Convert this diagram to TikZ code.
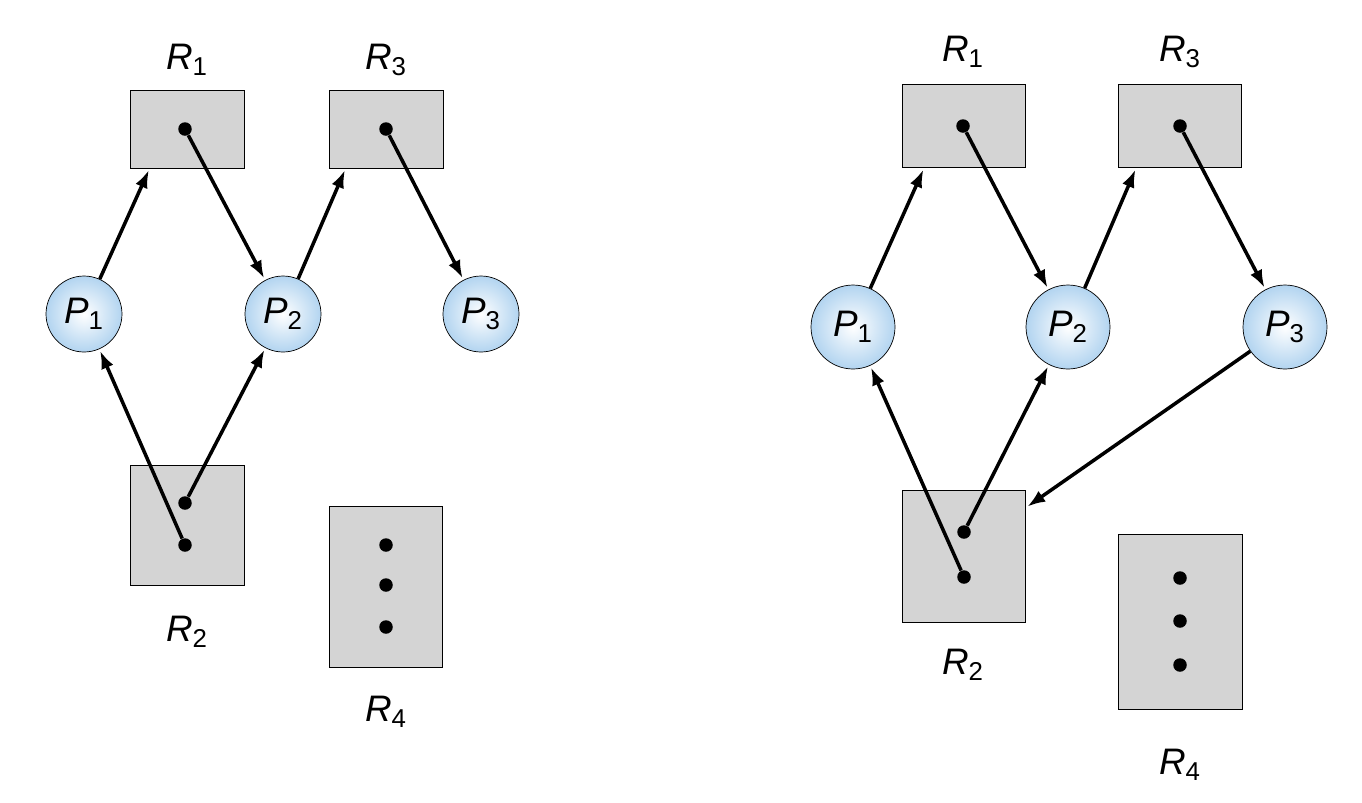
\documentclass[tikz,border=0pt]{standalone}
\usepackage{fontspec}
\setmainfont{Liberation Sans}
\usetikzlibrary{calc}
\definecolor{resgray}{RGB}{212,212,212}
\definecolor{procblue}{RGB}{178,212,240}
\newcommand{\lbl}[2]{\textit{#1}\textsubscript{#2}}
\tikzset{%
	res/.style args={#1 and #2}{draw, fill=resgray, minimum width=#1, minimum height=#2, inner sep=0pt},
	proc/.style={draw, circle, inner color=white, outer color=procblue, minimum size=#1, inner sep=0pt,
		font=\fontsize{21}{24}\selectfont},
	dot/.style={circle, fill, inner sep=0pt, minimum size=0.27cm},
	tag/.style={font=\fontsize{21}{24}\selectfont},
	edge/.style={-{Latex[length=0.36cm,width=0.26cm]}, line width=2pt, shorten >=1pt}
}
\usetikzlibrary{arrows.meta}
\begin{document}
\begin{tikzpicture}[x=0.02cm, y=-0.02cm]
				\useasboundingbox (0,0) rectangle (1362,802);
				% left graph
				\node [res=2.28cm and 1.56cm] (aR1) at (187,129) {};
				\node [res=2.28cm and 1.56cm] (aR3) at (386,129) {};
				\node [res=2.28cm and 2.4cm] (aR2) at (187,525) {};
				\node [res=2.26cm and 3.22cm] (aR4) at (386,587) {};
				\node [dot] (aD1) at (185,129) {};
				\node [dot] (aD3) at (386,129) {};
				\node [dot] (aD2a) at (185,503) {};
				\node [dot] (aD2b) at (185,545) {};
				\foreach \y in {545,585,627} \node [dot] at (386,\y) {};
				\node [proc=1.52cm] (aP1) at (84,314) {\lbl{P}{1}};
				\node [proc=1.52cm] (aP2) at (283,314) {\lbl{P}{2}};
				\node [proc=1.52cm] (aP3) at (481,314) {\lbl{P}{3}};
				\node [tag] at (187,60) {\lbl{R}{1}};
				\node [tag] at (386,60) {\lbl{R}{3}};
				\node [tag] at (187,632) {\lbl{R}{2}};
				\node [tag] at (386,712) {\lbl{R}{4}};
				\coordinate (aR1in) at ([xshift=0.4cm]aR1.south west);
				\coordinate (aR3in) at ([xshift=0.34cm]aR3.south west);
				\draw [edge] (aP1) -- (aR1in);
				\draw [edge] (aD1) -- (aP2);
				\draw [edge] (aP2) -- (aR3in);
				\draw [edge] (aD3) -- (aP3);
				\draw [edge] (aD2b) -- (aP1);
				\draw [edge] (aD2a) -- (aP2);
				% right graph
				\node [res=2.46cm and 1.66cm] (bR1) at (964,126) {};
				\node [res=2.46cm and 1.66cm] (bR3) at (1180,126) {};
				\node [res=2.46cm and 2.64cm] (bR2) at (964,556) {};
				\node [res=2.48cm and 3.5cm] (bR4) at (1180,622) {};
				\node [dot] (bD1) at (963,126) {};
				\node [dot] (bD3) at (1180,126) {};
				\node [dot] (bD2a) at (964,532) {};
				\node [dot] (bD2b) at (964,577) {};
				\foreach \y in {578,621,665} \node [dot] at (1180,\y) {};
				\node [proc=1.68cm] (bP1) at (853,327) {\lbl{P}{1}};
				\node [proc=1.68cm] (bP2) at (1068,327) {\lbl{P}{2}};
				\node [proc=1.68cm] (bP3) at (1285,327) {\lbl{P}{3}};
				\node [tag] at (963,52) {\lbl{R}{1}};
				\node [tag] at (1180,52) {\lbl{R}{3}};
				\node [tag] at (963,665) {\lbl{R}{2}};
				\node [tag] at (1180,765) {\lbl{R}{4}};
				\coordinate (bR1in) at ([xshift=0.44cm]bR1.south west);
				\coordinate (bR3in) at ([xshift=0.36cm]bR3.south west);
				\coordinate (bR2in) at ([yshift=-0.36cm]bR2.north east);
				\draw [edge] (bP1) -- (bR1in);
				\draw [edge] (bD1) -- (bP2);
				\draw [edge] (bP2) -- (bR3in);
				\draw [edge] (bD3) -- (bP3);
				\draw [edge] (bD2b) -- (bP1);
				\draw [edge] (bD2a) -- (bP2);
				\draw [edge] (bP3) -- (bR2in);
			\end{tikzpicture}
\end{document}
